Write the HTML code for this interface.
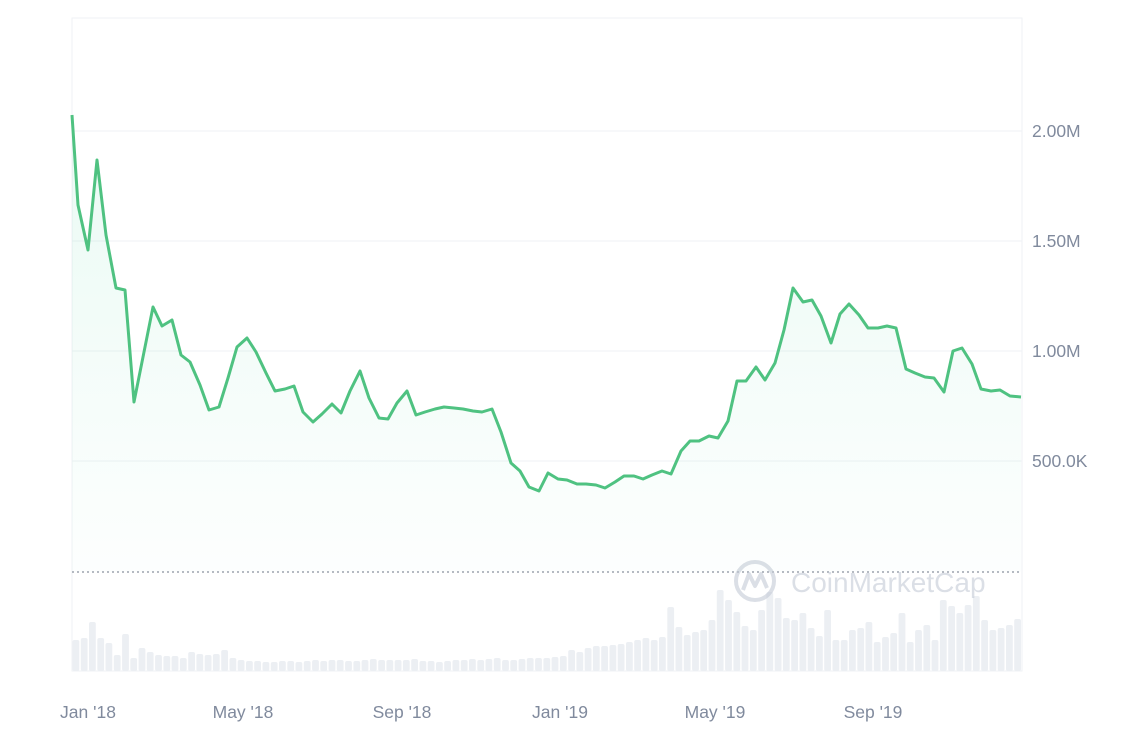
<!DOCTYPE html>
<html><head><meta charset="utf-8"><style>
html,body{margin:0;padding:0;background:#fff;}
svg{display:block;font-family:"Liberation Sans",sans-serif;}
</style></head><body>
<svg id="s" width="1130" height="756" viewBox="0 0 1130 756">
<defs>
<linearGradient id="g" x1="0" y1="0" x2="0" y2="1">
<stop offset="0" stop-color="#16c784" stop-opacity="0.09"/>
<stop offset="1" stop-color="#16c784" stop-opacity="0.01"/>
</linearGradient>
</defs>
<rect x="72" y="18" width="950" height="653" fill="none" stroke="#eff2f5" stroke-width="1"/>
<g stroke="#eff2f5" stroke-width="1">
<line x1="72" y1="131" x2="1022" y2="131"/>
<line x1="72" y1="241" x2="1022" y2="241"/>
<line x1="72" y1="351" x2="1022" y2="351"/>
<line x1="72" y1="461" x2="1022" y2="461"/>
</g>
<g id="bars" fill="#eceff3"></g>
<line x1="72" y1="572" x2="1022" y2="572" stroke="#8a919e" stroke-width="1.2" stroke-dasharray="2,3"/>
<g opacity="0.6">
<circle cx="755" cy="581" r="19" fill="none" stroke="#c4cad6" stroke-width="4"/>
<path d="M743 590 L749 574 L755 586 L761 574 L767 588" fill="none" stroke="#c4cad6" stroke-width="4" stroke-linejoin="round"/>
<text x="791" y="592" font-size="28" fill="#c4cad6">CoinMarketCap</text>
</g>
<path id="area" fill="url(#g)"/>
<path id="line" fill="none" stroke="#4fc281" stroke-width="3" stroke-linejoin="round"/>
<g fill="#808a9d" font-size="17.5">
<text x="1032" y="137">2.00M</text>
<text x="1032" y="247">1.50M</text>
<text x="1032" y="357">1.00M</text>
<text x="1032" y="467">500.0K</text>
<text x="88" y="718" text-anchor="middle">Jan '18</text>
<text x="243" y="718" text-anchor="middle">May '18</text>
<text x="402" y="718" text-anchor="middle">Sep '18</text>
<text x="560" y="718" text-anchor="middle">Jan '19</text>
<text x="715" y="718" text-anchor="middle">May '19</text>
<text x="873" y="718" text-anchor="middle">Sep '19</text>
</g>
</svg>
<script>
var p=[[72,115],[78,205],[88,250],[97,160],[106,235],[116,288],[125,290],[134,402],[144,352],[153,307],[162,326],[172,320],[181,355],[190,362],[200,385],[209,410],[219,407],[228,378],[237,347],[247,338],[256,352],[266,373],[275,391],[285,389],[294,386],[303,412],[313,422],[322,414],[332,404],[341,413],[350,391],[360,371],[369,398],[379,418],[388,419],[397,403],[407,391],[416,415],[425,412],[435,409],[444,407],[454,408],[463,409],[473,411],[482,412],[492,409],[501,432],[511,463],[520,471],[529,487],[539,491],[548,473],[558,479],[567,480],[577,484],[586,484],[596,485],[605,488],[615,482],[624,476],[634,476],[643,479],[652,475],[662,471],[671,474],[681,451],[690,441],[699,441],[709,436],[718,438],[728,421],[737,381],[746,381],[756,367],[765,380],[775,363],[784,330],[793,288],[803,302],[812,300],[821,316],[831,343],[840,314],[849,304],[859,315],[868,328],[878,328],[887,326],[896,328],[906,369],[915,373],[925,377],[934,378],[944,392],[953,351],[962,348],[972,364],[981,389],[991,391],[1000,390],[1010,396],[1021,397]];
var d="M"+p.map(function(a){return a[0]+" "+a[1]}).join(" L");
document.getElementById("line").setAttribute("d",d);
document.getElementById("area").setAttribute("d",d+" L1021 572 L72 572 Z");
var t=[640,638,622,638,643,655,634,658,648,652,655,656,656,658,652,654,655,654,650,658,660,661,661,662,662,661,661,662,661,660,661,660,660,661,661,660,659,660,660,660,660,659,661,661,662,661,660,660,659,660,659,658,660,660,659,658,658,658,657,656,650,652,648,646,646,645,644,642,640,638,640,637,607,627,635,632,630,620,590,600,612,626,630,610,592,598,618,620,613,628,636,610,640,640,630,628,622,642,637,633,613,642,630,625,640,600,606,613,605,596,620,630,628,625,619];
var n=t.length,w=950/n,h="";
for(var i=0;i<n;i++){var x=72+i*w+0.5;h+='<rect x="'+x.toFixed(1)+'" y="'+t[i]+'" width="'+(w-1.5).toFixed(1)+'" height="'+(671-t[i])+'" rx="2"/>';}
document.getElementById("bars").innerHTML=h;
</script>
</body></html>
